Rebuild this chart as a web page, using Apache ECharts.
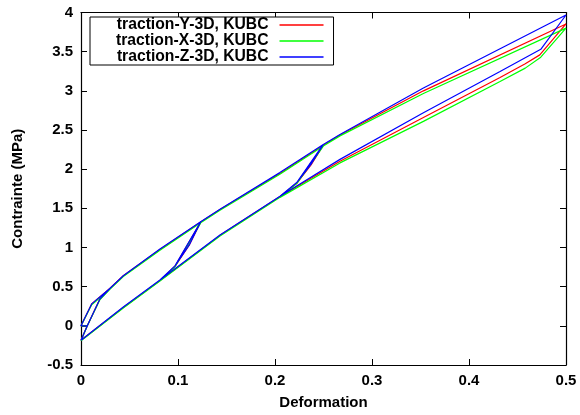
<!DOCTYPE html>
<html>
<head>
<meta charset="utf-8">
<script src="https://cdn.jsdelivr.net/npm/echarts@6/dist/echarts.min.js"></script>
<style>html,body{margin:0;padding:0;background:#fff}#c{width:580px;height:415px}</style>
</head>
<body>
<div id="c"></div>
<script>
// Series names
const seriesNames = ['traction-Y-3D, KUBC', 'traction-X-3D, KUBC', 'traction-Z-3D, KUBC'];
const seriesColors = ['#ff0000', '#00ff00', '#0000ff'];

// traction-Y-3D (red)
const defY = [0.0065,0,0.011,0.03,0.0436,0.0814,0.1234, 0.0969,0.0814,0.0436,0, 0.0436,0.0814,0.0969,0.1115,0.1234,0.1433,0.205,0.2498, 0.2224,0.2052,0.1433,0.0814,0.0436,0, 0.0436,0.0814,0.1433,0.2052,0.2224,0.237,0.2498,0.267,0.353,0.5, 0.473,0.458,0.432,0.353,0.267,0.2052,0.1433,0.0814,0.0436,0, 0.0065,0.0196,0.03];
const sigY = [0,0,0.28,0.48,0.64,0.975,1.325, 0.76,0.58,0.235,-0.185, 0.235,0.58,0.76,1.03,1.325,1.485,1.945,2.305, 1.82,1.65,1.155,0.58,0.235,-0.185, 0.235,0.58,1.155,1.65,1.82,2.05,2.305,2.435,3.0,3.854, 3.459,3.345,3.17,2.66,2.10,1.65,1.155,0.58,0.235,-0.185, 0,0.345,0.48];

// traction-X-3D (green)
const defX = [0.0065,0,0.011,0.03,0.0436,0.0814,0.1234, 0.0969,0.0814,0.0436,0, 0.0436,0.0814,0.0969,0.1105,0.1234,0.1433,0.205,0.2498, 0.2224,0.2052,0.1433,0.0814,0.0436,0, 0.0436,0.0814,0.1433,0.2052,0.2224,0.236,0.2498,0.267,0.353,0.5, 0.474,0.458,0.432,0.353,0.267,0.2052,0.1433,0.0814,0.0436,0, 0.0065,0.0196,0.03];
const sigX = [0,0,0.27,0.47,0.63,0.965,1.315, 0.755,0.572,0.228,-0.19, 0.228,0.572,0.755,1.04,1.315,1.475,1.935,2.295, 1.815,1.64,1.148,0.572,0.228,-0.19, 0.228,0.572,1.148,1.64,1.815,2.06,2.295,2.425,2.965,3.80, 3.43,3.29,3.12,2.61,2.08,1.64,1.148,0.572,0.228,-0.19, 0,0.335,0.47];

// traction-Z-3D (blue)
const defZ = [0.0065,0,0.011,0.03,0.0436,0.0814,0.1234, 0.0969,0.0814,0.0436,0, 0.0436,0.0814,0.0969,0.1115,0.1234,0.1433,0.205,0.2498, 0.2224,0.2052,0.1433,0.0814,0.0436,0, 0.0436,0.0814,0.1433,0.2052,0.2224,0.237,0.2498,0.267,0.353,0.5, 0.474,0.432,0.353,0.267,0.2052,0.1433,0.0814,0.0436,0, 0.0065,0.0196,0.03];
const sigZ = [0,0,0.28,0.48,0.64,0.981,1.328, 0.765,0.585,0.24,-0.185, 0.24,0.585,0.765,1.03,1.328,1.489,1.956,2.316, 1.829,1.655,1.16,0.585,0.24,-0.185, 0.24,0.585,1.16,1.655,1.829,2.06,2.316,2.443,3.036,3.968, 3.53,3.247,2.719,2.125,1.655,1.16,0.585,0.24,-0.185, 0,0.345,0.48];

// Axis ticks
const xTicks = [0, 0.1, 0.2, 0.3, 0.4, 0.5];
const yTicks = [-0.5, 0, 0.5, 1, 1.5, 2, 2.5, 3, 3.5, 4];

const defs = [defY, defX, defZ];
const sigs = [sigY, sigX, sigZ];

const font = "'Liberation Sans', Arial, Helvetica, sans-serif";

function pairs(xs, ys) { return xs.map((x, i) => [x, ys[i]]); }

const tickCommon = { show: true, inside: true, length: 6, lineStyle: { color: '#000', width: 1 } };
const lineCommon = { show: true, onZero: false, lineStyle: { color: '#000', width: 1.2 } };
const labelCommon = { color: '#000', fontFamily: font, fontWeight: 'bold', fontSize: 15 };

const chart = echarts.init(document.getElementById('c'), null, { renderer: 'canvas' });
chart.setOption({
  animation: false,
  backgroundColor: '#fff',
  grid: { left: 81, right: 14, top: 12.5, bottom: 48.5, containLabel: false },
  legend: {
    data: seriesNames,
    orient: 'vertical',
    left: 90, top: 17,
    align: 'right',
    icon: 'rect',
    backgroundColor: '#fff',
    borderColor: '#000', borderWidth: 1,
    padding: [0, 10, 0, 26],
    itemGap: 0,
    itemWidth: 44, itemHeight: 1.5,
    textStyle: { color: '#000', fontFamily: font, fontWeight: 'bold', fontSize: 15.7, lineHeight: 16, padding: [0, 6, 0, 0] }
  },
  xAxis: [
    {
      type: 'value', min: xTicks[0], max: xTicks[xTicks.length - 1], interval: 0.1, position: 'bottom',
      name: 'Deformation', nameLocation: 'middle', nameGap: 30,
      nameTextStyle: labelCommon,
      axisLine: lineCommon, axisTick: tickCommon, splitLine: { show: false },
      axisLabel: Object.assign({ margin: 8, formatter: v => String(+v.toFixed(1)) }, labelCommon)
    },
    {
      type: 'value', min: xTicks[0], max: xTicks[xTicks.length - 1], interval: 0.1, position: 'top',
      axisLine: lineCommon, axisTick: tickCommon, splitLine: { show: false }, axisLabel: { show: false }
    }
  ],
  yAxis: [
    {
      type: 'value', min: yTicks[0], max: yTicks[yTicks.length - 1], interval: 0.5, position: 'left',
      name: 'Contrainte (MPa)', nameLocation: 'middle', nameGap: 56, nameRotate: 90,
      nameTextStyle: labelCommon,
      axisLine: lineCommon, axisTick: tickCommon, splitLine: { show: false },
      axisLabel: Object.assign({ margin: 8, formatter: v => String(+v.toFixed(1)) }, labelCommon)
    },
    {
      type: 'value', min: yTicks[0], max: yTicks[yTicks.length - 1], interval: 0.5, position: 'right',
      axisLine: lineCommon, axisTick: tickCommon, splitLine: { show: false }, axisLabel: { show: false }
    }
  ],
  series: seriesNames.map((name, i) => ({
    name: name,
    type: 'line',
    xAxisIndex: 0, yAxisIndex: 0,
    data: pairs(defs[i], sigs[i]),
    symbol: 'none',
    smooth: false,
    color: seriesColors[i],
    lineStyle: { color: seriesColors[i], width: 1.2 },
    z: 2 + i
  }))
});
</script>
</body>
</html>
